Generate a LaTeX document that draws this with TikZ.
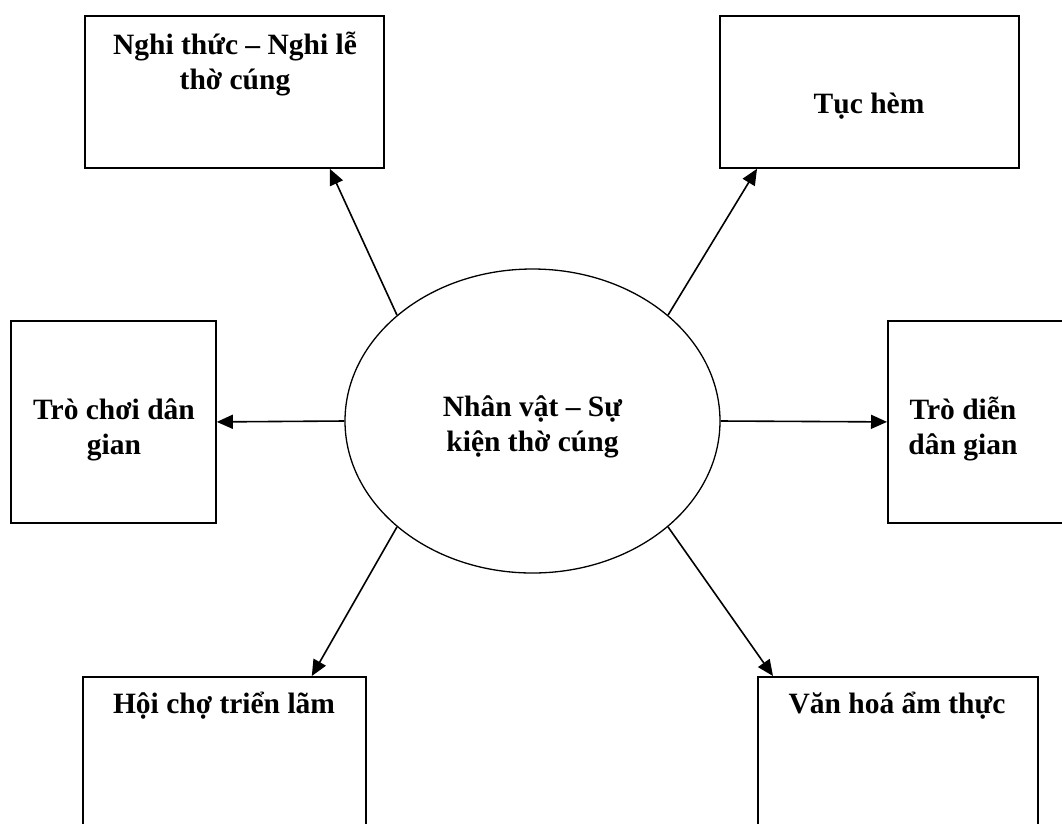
\documentclass[tikz,border=0pt]{standalone}
\usepackage{fontspec}
\setmainfont{Liberation Serif}
\usetikzlibrary{arrows.meta,positioning,calc,shapes.geometric}
\tikzset{
  box/.style={draw, line width=1.8pt, inner sep=0pt, anchor=north west},
  core/.style={draw, ellipse, line width=1.3pt, inner sep=0pt},
  lbl/.style={font=\fontsize{29.5}{35}\selectfont\bfseries, align=center,
              inner sep=0pt, anchor=base},
  arrow/.style={-{Triangle[length=16pt,width=14pt]}, line width=1.6pt}
}

\begin{document}
\begin{tikzpicture}[x=1pt, y=-1pt]
  \useasboundingbox (0,0) rectangle (1062,823);
  \clip (0,0) rectangle (1062,823);

  \node[core, minimum width=375, minimum height=304] (nhan) at (532.5,421) {};
  \node[box, minimum width=299, minimum height=152] (nghi) at (84,15) {};
  \node[box, minimum width=299, minimum height=152] (tuc) at (719,15) {};
  \node[box, minimum width=205, minimum height=202] (choi) at (10,320) {};
  \node[box, minimum width=200, minimum height=202] (dien) at (887,320) {};
  \node[box, minimum width=283, minimum height=200] (hoi) at (82,676) {};
  \node[box, minimum width=280, minimum height=200] (vanhoa) at (757,676) {};

  % labels (base = last line)
  \node[lbl] (nhan-t) at (532.5,451) {Nhân vật – Sự\\kiện thờ cúng};
  \node[lbl] (nghi-t) at (235,89) {Nghi thức – Nghi lễ\\thờ cúng};
  \node[lbl] (tuc-t) at (869,113) {Tục hèm};
  \node[lbl] (choi-t) at (114,454) {Trò chơi dân\\gian};
  \node[lbl] (dien-t) at (963,454) {Trò diễn\\dân gian};
  \node[lbl] (hoi-t) at (224,713) {Hội chợ triển lãm};
  \node[lbl] (vanhoa-t) at (897,713) {Văn hoá ẩm thực};

  \draw[arrow] (nhan.142)--($(nghi.south east)+(-55,0)$);
  \draw[arrow] (nhan.38)--($(tuc.south west)+(38,0)$);
  \draw[arrow] (nhan.west)--(choi.east);
  \draw[arrow] (nhan.east)--(dien.west);
  \draw[arrow] (nhan.218.6)--($(hoi.north east)+(-55,0)$);
  \draw[arrow] (nhan.322)--($(vanhoa.north west)+(16,0)$);
\end{tikzpicture}
\end{document}
